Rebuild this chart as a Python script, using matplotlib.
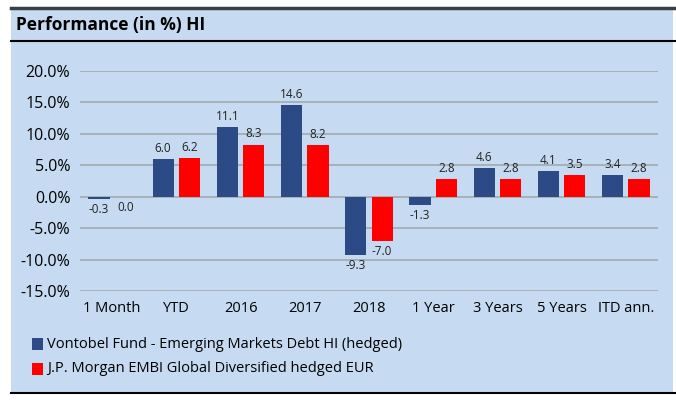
import numpy as np
import matplotlib
matplotlib.use("Agg")
from matplotlib import pyplot as plt
from matplotlib.patches import Rectangle

# Chart data
categories = ["1 Month", "YTD", "2016", "2017", "2018", "1 Year", "3 Years", "5 Years", "ITD ann."]
fund = [-0.3, 6.0, 11.1, 14.6, -9.3, -1.3, 4.6, 4.1, 3.4]
bench = [0.0, 6.2, 8.3, 8.2, -7.0, 2.8, 2.8, 3.5, 2.8]
fundName = "Vontobel Fund - Emerging Markets Debt HI (hedged)"
benchName = "J.P. Morgan EMBI Global Diversified hedged EUR"
yticks = [-15, -10, -5, 0, 5, 10, 15, 20]

bgColor = "#c6dbf1"
blue = "#2c4a86"
red = "#ff0000"
plt.rcParams["font.family"] = ["Open Sans", "DejaVu Sans"]

W, H = 676, 400
fig = plt.figure(figsize=(W / 100, H / 100), dpi=100)
fig.patch.set_facecolor("white")

# Panel background and frame lines (in pixel-ish figure coords)
def fx(px):
    return px / W

def fy(py):
    return 1 - py / H

fig.patches.append(Rectangle((fx(11), fy(393)), fx(662), 385 / H,
                             transform=fig.transFigure, facecolor=bgColor,
                             edgecolor="none", zorder=-5))
fig.add_artist(plt.Line2D([fx(11), fx(676)], [fy(8), fy(8)], color="#3a3f44", lw=2.5))
fig.add_artist(plt.Line2D([fx(11), fx(676)], [fy(41), fy(41)], color="black", lw=1.5))
fig.add_artist(plt.Line2D([fx(11), fx(676)], [fy(393), fy(393)], color="black", lw=1.5))

fig.text(fx(16), fy(25), "Performance (in %) HI", fontsize=12.5, fontweight="bold",
         va="center", ha="left")

ax = fig.add_axes([fx(80), fy(291), fx(578), 220 / H])
ax.set_zorder(2)
ax.set_facecolor("none")
x = np.arange(len(categories))
w = 0.33
off = 0.205
b1 = ax.bar(x - off, fund, w, color=blue, zorder=3)
b2 = ax.bar(x + off, bench, w, color=red, zorder=3)

for bars, vals in ((b1, fund), (b2, bench)):
    for rect, v in zip(bars, vals):
        cx = rect.get_x() + rect.get_width() / 2
        if v > 0:
            ax.annotate(f"{v:.1f}", (cx, v), xytext=(0, 3), textcoords="offset points",
                        ha="center", va="bottom", fontsize=8.5, color="#222222")
        else:
            ax.annotate(f"{v:.1f}", (cx, v), xytext=(0, -3), textcoords="offset points",
                        ha="center", va="top", fontsize=8.5, color="#222222")

ax.set_xlim(-0.5, len(categories) - 0.5)
ax.set_ylim(-15, 20)
ax.set_yticks(yticks)
ax.set_yticklabels([f"{t:.1f}%" for t in yticks], fontsize=11.5)
ax.set_xticks(x)
ax.set_xticklabels(categories, fontsize=10.5)
ax.tick_params(length=0, pad=7)
ax.tick_params(axis="x", pad=7)
ax.yaxis.grid(True, color="#a3a8b0", lw=1.2, zorder=1)
ax.set_axisbelow(True)
for s in ax.spines.values():
    s.set_visible(False)

# Legend entries
for py, col, name in ((344, blue, fundName), (369, red, benchName)):
    fig.patches.append(Rectangle((fx(32), fy(py + 6)), fx(11), 12 / H,
                                 transform=fig.transFigure, facecolor=col,
                                 edgecolor="none", zorder=2))
    fig.text(fx(47), fy(py), name, fontsize=10.5, va="center", ha="left")

fig.savefig("out.png", dpi=100, facecolor=fig.get_facecolor())
